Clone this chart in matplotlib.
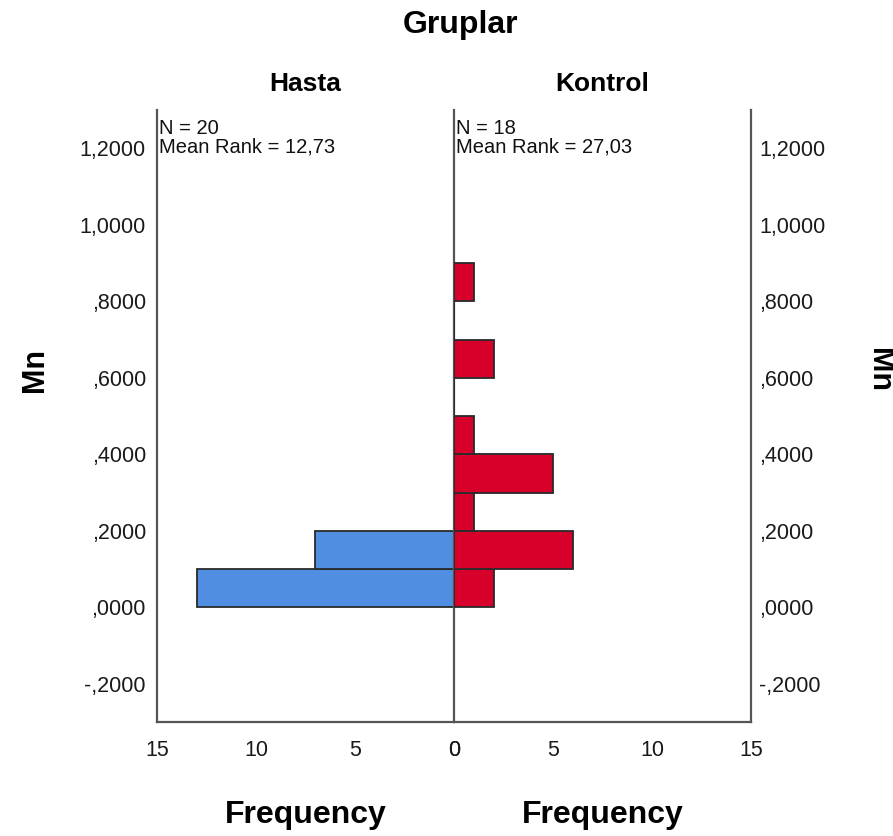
import numpy as np
import matplotlib.pyplot as plt

plt.rcParams['font.family'] = ['Liberation Sans', 'DejaVu Sans']

# Mn histogram, bin width 0.1
bin_edges = [0.0, 0.1, 0.2, 0.3, 0.4, 0.5, 0.6, 0.7, 0.8, 0.9]
hasta_counts = [13, 7, 0, 0, 0, 0, 0, 0, 0]
kontrol_counts = [2, 6, 1, 5, 1, 0, 2, 0, 1]
groups = ['Hasta', 'Kontrol']
n_values = [20, 18]
mean_ranks = [12.73, 27.03]
y_ticks = [-0.2, 0.0, 0.2, 0.4, 0.6, 0.8, 1.0, 1.2]
x_ticks = [0, 5, 10, 15]

blue = '#4f8ee0'
red = '#d6002b'
edge = '#2a2a2a'
spine_c = '#555555'


def spss_fmt(v):
    s = f"{v:.4f}".replace('.', ',')
    s = s.replace('-0,', '-,')
    if s.startswith('0,'):
        s = s[1:]
    return s


fig = plt.figure(figsize=(8.93, 8.36), dpi=100)
axl = fig.add_axes([157 / 893, 1 - 722 / 836, 297 / 893, 612 / 836])
axr = fig.add_axes([454 / 893, 1 - 722 / 836, 297 / 893, 612 / 836])
axr.patch.set_visible(False)

bottoms = bin_edges[:-1]
axl.barh(bottoms, hasta_counts, height=0.1, align='edge', color=blue,
         edgecolor=edge, linewidth=1.3)
axr.barh(bottoms, kontrol_counts, height=0.1, align='edge', color=red,
         edgecolor=edge, linewidth=1.3)

for ax in (axl, axr):
    ax.set_ylim(-0.3, 1.3)
    ax.set_xticks(x_ticks)
    ax.set_yticks(y_ticks)
    ax.set_yticklabels([spss_fmt(v) for v in y_ticks])
    ax.spines['top'].set_visible(False)
    for s in ('left', 'right', 'bottom'):
        ax.spines[s].set_color(spine_c)
        ax.spines[s].set_linewidth(1.6)
    ax.tick_params(length=0, labelsize=15.5, colors='#1a1a1a')
    ax.tick_params(axis='x', pad=13)

axl.set_xlim(15, 0)
axr.set_xlim(0, 15)
axl.yaxis.tick_left()
axl.tick_params(axis='y', pad=8)
axr.yaxis.tick_right()
axr.tick_params(axis='y', pad=6)
axr.spines['left'].set_visible(False)

for ax, g, n, mr in zip((axl, axr), groups, n_values, mean_ranks):
    ax.text(0.008, 0.985, f"N = {n}\nMean Rank = {mr:.2f}".replace('.', ','),
            transform=ax.transAxes, ha='left', va='top', fontsize=14.5,
            linespacing=0.95, color='#111111')
    ax.set_title(g, fontsize=19, fontweight='bold', pad=14)
    ax.set_xlabel('Frequency', fontsize=23, fontweight='bold', labelpad=28)

fig.text(460 / 893, 1 - 25 / 836, 'Gruplar', ha='center', va='center',
         fontsize=23, fontweight='bold')
fig.text(35 / 893, 1 - 370 / 836, 'Mn', ha='center', va='center',
         rotation=90, fontsize=22, fontweight='bold')
fig.text(879 / 893, 1 - 370 / 836, 'Mn', ha='center', va='center',
         rotation=270, fontsize=22, fontweight='bold')

fig.savefig('out.png', dpi=100)
